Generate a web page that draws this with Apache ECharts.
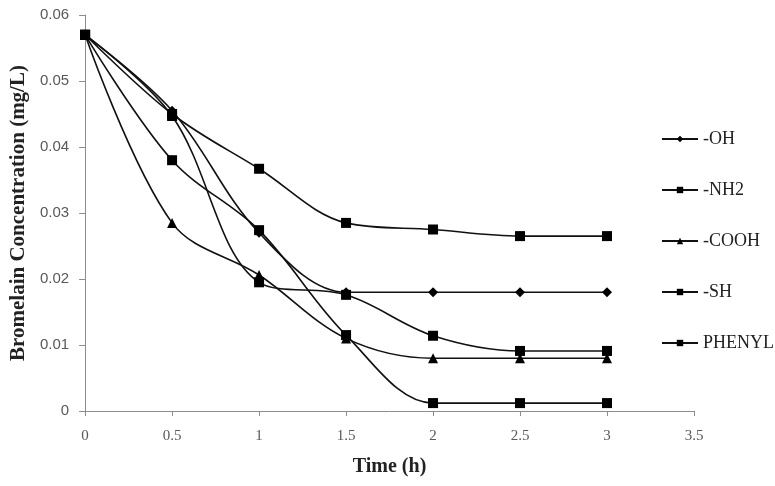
<!DOCTYPE html>
<html>
<head>
<meta charset="utf-8">
<script src="https://cdn.jsdelivr.net/npm/echarts@6/dist/echarts.min.js"></script>
<style>
  html, body { margin: 0; padding: 0; background: #fff; }
  #chart { width: 775px; height: 486px; }
</style>
</head>
<body>
<div id="chart"></div>
<script>
// 时间点 (h)
const times = [0, 0.5, 1, 1.5, 2, 2.5, 3];

// 各基团浓度 (mg/L)
const ohValues = [0.057, 0.0455, 0.027, 0.018, 0.018, 0.018, 0.018];
const nh2Values = [0.057, 0.045, 0.0367, 0.0285, 0.0275, 0.0265, 0.0265];
const coohValues = [0.057, 0.0285, 0.0206, 0.011, 0.008, 0.008, 0.008];
const shValues = [0.057, 0.0447, 0.0195, 0.0176, 0.0114, 0.0091, 0.0091];
const phenylValues = [0.057, 0.038, 0.0274, 0.0115, 0.0012, 0.0012, 0.0012];

const seriesNames = ['-OH', '-NH2', '-COOH', '-SH', 'PHENYL'];
const seriesValues = [ohValues, nh2Values, coohValues, shValues, phenylValues];
const seriesSymbols = ['diamond', 'rect', 'triangle', 'rect', 'rect'];

const axisGray = '#8c8c8c';
const labelGray = '#595959';

const chart = echarts.init(document.getElementById('chart'));

const series = seriesNames.map((name, i) => ({
  name,
  type: 'line',
  smooth: 0.35,
  symbol: seriesSymbols[i],
  symbolSize: seriesSymbols[i] === 'rect' ? 10 : 10,
  showSymbol: true,
  lineStyle: {color: '#111', width: 1.6},
  itemStyle: {color: '#000'},
  data: times.map((t, j) => [t, seriesValues[i][j]])
}));

chart.setOption({
  animation: false,
  backgroundColor: '#fff',
  grid: {left: 84, right: 81, top: 15, bottom: 75},
  legend: {
    orient: 'vertical',
    left: 656,
    top: 125,
    itemGap: 33,
    itemWidth: 36,
    itemHeight: 8,
    textStyle: {fontFamily: 'Liberation Serif', fontSize: 18, color: '#222'},
    data: seriesNames
  },
  xAxis: {
    type: 'value',
    min: 0,
    max: 3.5,
    interval: 0.5,
    name: 'Time (h)',
    nameLocation: 'middle',
    nameGap: 46,
    nameTextStyle: {fontFamily: 'Liberation Serif', fontWeight: 'bold', fontSize: 20, color: '#222'},
    axisLine: {lineStyle: {color: axisGray}},
    axisTick: {show: true, length: 5, lineStyle: {color: axisGray}},
    axisLabel: {fontFamily: 'Liberation Serif', fontSize: 15, color: labelGray, margin: 18},
    splitLine: {show: false}
  },
  yAxis: {
    type: 'value',
    min: 0,
    max: 0.06,
    interval: 0.01,
    name: 'Bromelain Concentration (mg/L)',
    nameLocation: 'middle',
    nameGap: 53,
    nameTextStyle: {fontFamily: 'Liberation Serif', fontWeight: 'bold', fontSize: 21, color: '#222'},
    axisLine: {show: true, lineStyle: {color: axisGray}},
    axisTick: {show: true, length: 6, lineStyle: {color: axisGray}},
    axisLabel: {
      fontFamily: 'Liberation Sans',
      fontSize: 15,
      color: labelGray,
      margin: 16,
      formatter: v => (v === 0 ? '0' : v.toFixed(2))
    },
    splitLine: {show: false}
  },
  series
});
</script>
</body>
</html>
